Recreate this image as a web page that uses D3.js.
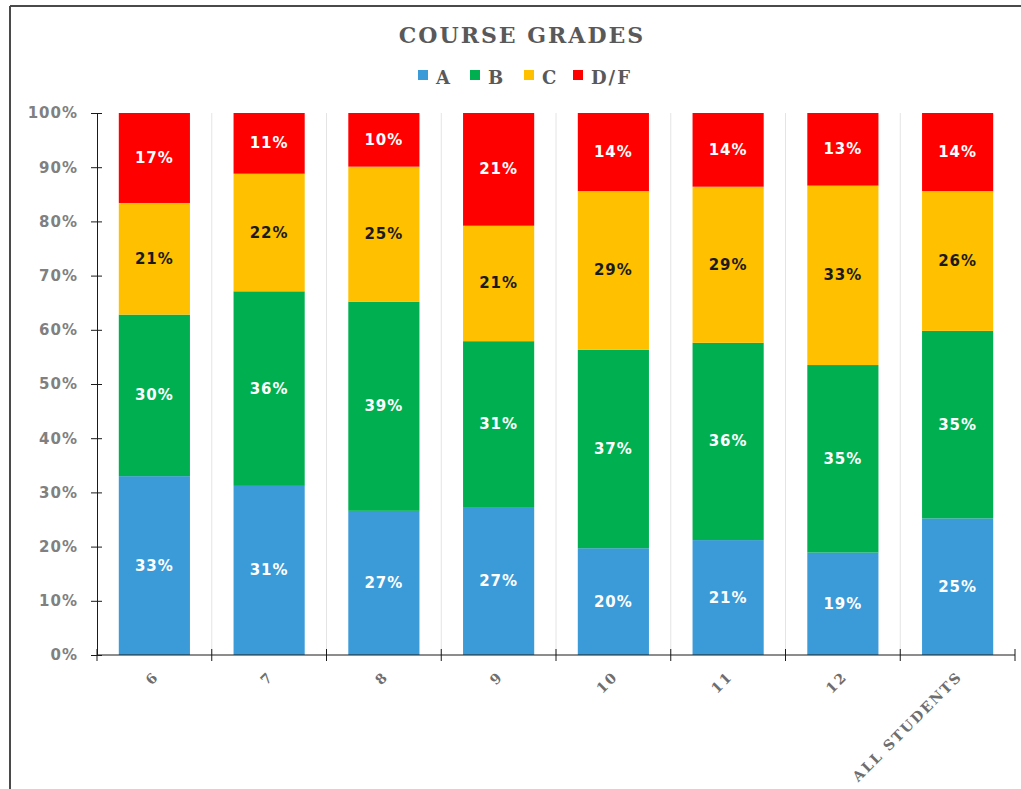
<!DOCTYPE html>
<html>
<head>
<meta charset="utf-8">
<script src="https://cdn.jsdelivr.net/npm/d3@7"></script>
<style>
  html, body { margin: 0; padding: 0; background: #ffffff; }
  svg { display: block; }
</style>
</head>
<body>
<svg id="chart" width="1021" height="789"></svg>
<script>
// Course grade distribution by grade level (percent of students)
const categories = ["6", "7", "8", "9", "10", "11", "12", "ALL STUDENTS"];
const gradeA  = [33.0, 31.2, 26.6, 27.3, 19.7, 21.2, 18.9, 25.2];
const gradeB  = [29.8, 35.9, 38.6, 30.6, 36.6, 36.4, 34.6, 34.6];
const gradeC  = [20.6, 21.7, 24.9, 21.3, 29.3, 28.8, 33.1, 25.8];
const gradeDF = [16.6, 11.2,  9.9, 20.8, 14.4, 13.6, 13.4, 14.4];
const seriesNames = ["A", "B", "C", "D/F"];
const seriesColors = ["#3a9bd8", "#00b050", "#ffc000", "#ff0000"];
const labelColors = ["#ffffff", "#ffffff", "#1a1a1a", "#ffffff"];
const yTicks = [0, 10, 20, 30, 40, 50, 60, 70, 80, 90, 100];

const rows = categories.map((c, i) => ({
  cat: c, A: gradeA[i], B: gradeB[i], C: gradeC[i], "D/F": gradeDF[i]
}));

const svg = d3.select("#chart");
const margin = { left: 97, right: 6, top: 113, bottom: 134 };
const W = 1021, H = 789;

// frame lines
svg.append("line").attr("x1", 10).attr("x2", W).attr("y1", 6).attr("y2", 6)
  .attr("stroke", "#4a4a4a").attr("stroke-width", 2);
svg.append("line").attr("x1", 10).attr("x2", 10).attr("y1", 6).attr("y2", H)
  .attr("stroke", "#4a4a4a").attr("stroke-width", 2);

const x = d3.scaleBand().domain(categories)
  .range([margin.left, W - margin.right]).paddingInner(0.38).paddingOuter(0.19);
const y = d3.scaleLinear().domain([0, 100]).range([H - margin.bottom, margin.top]);

const stack = d3.stack().keys(seriesNames).offset(d3.stackOffsetExpand);
const stacked = stack(rows);

// light vertical separators between categories
const step = x.step();
const bounds = d3.range(1, categories.length).map(i => margin.left + i * step);
svg.append("g").selectAll("line").data(bounds).join("line")
  .attr("x1", d => d).attr("x2", d => d)
  .attr("y1", y(100)).attr("y2", y(0))
  .attr("stroke", "#e4e4e4").attr("stroke-width", 1);

// bars
const layer = svg.append("g").selectAll("g").data(stacked).join("g")
  .attr("fill", (d, i) => seriesColors[i]);
layer.selectAll("rect").data(d => d).join("rect")
  .attr("x", d => x(d.data.cat))
  .attr("width", x.bandwidth())
  .attr("y", d => y(d[1] * 100))
  .attr("height", d => y(d[0] * 100) - y(d[1] * 100));

// segment value labels
const labels = svg.append("g").selectAll("g").data(stacked).join("g")
  .attr("fill", (d, i) => labelColors[i]);
labels.selectAll("text").data(d => d.map(p => ({ p, key: d.key }))).join("text")
  .attr("x", d => x(d.p.data.cat) + x.bandwidth() / 2)
  .attr("y", d => y((d.p[0] + d.p[1]) / 2 * 100))
  .attr("text-anchor", "middle")
  .attr("dominant-baseline", "central")
  .style("font-family", "'DejaVu Sans', Verdana, sans-serif")
  .style("font-weight", "bold")
  .style("font-size", "15px")
  .style("letter-spacing", "1px")
  .text(d => d3.format(".0f")(d.p.data[d.key]) + "%");

// y axis
const yAxis = svg.append("g").attr("transform", `translate(${margin.left},0)`)
  .call(d3.axisLeft(y).tickValues(yTicks).tickFormat(d => d + "%").tickSizeOuter(0).tickSize(6));
yAxis.select(".domain").attr("stroke", "#1a1a1a");
yAxis.selectAll(".tick line").attr("stroke", "#1a1a1a").attr("x1", -6).attr("x2", 5);
yAxis.selectAll(".tick text")
  .attr("x", -19)
  .attr("fill", "#808080")
  .style("font-family", "'DejaVu Sans', Verdana, sans-serif")
  .style("font-weight", "bold")
  .style("font-size", "15px")
  .style("letter-spacing", "1px");

// x axis with ticks at category boundaries
const xAxisG = svg.append("g").attr("transform", `translate(0,${y(0)})`);
xAxisG.append("line").attr("x1", margin.left).attr("x2", W - margin.right)
  .attr("stroke", "#1a1a1a");
const tickPos = d3.range(0, categories.length + 1).map(i => margin.left + i * step);
xAxisG.selectAll("line.tk").data(tickPos).join("line").attr("class", "tk")
  .attr("x1", d => d).attr("x2", d => d).attr("y1", -6).attr("y2", 6)
  .attr("stroke", "#1a1a1a");
xAxisG.selectAll("text").data(categories).join("text")
  .attr("transform", d => `translate(${x(d) + x.bandwidth() / 2 + 2},${19}) rotate(-45)`)
  .attr("text-anchor", "end")
  .attr("dominant-baseline", "central")
  .attr("fill", "#6e6e6e")
  .style("font-family", "'DejaVu Serif', Cambria, serif")
  .style("font-weight", "bold")
  .style("font-size", "14px")
  .style("letter-spacing", "2px")
  .text(d => d);

// title
svg.append("text").attr("x", 522).attr("y", 43).attr("text-anchor", "middle")
  .attr("fill", "#595959")
  .style("font-family", "'DejaVu Serif', Cambria, serif")
  .style("font-weight", "bold")
  .style("font-size", "22px")
  .style("letter-spacing", "2px")
  .text("COURSE GRADES");

// legend
const legendX = [418, 470, 524, 573];
const legend = svg.append("g").selectAll("g").data(seriesNames).join("g")
  .attr("transform", (d, i) => `translate(${legendX[i]},70)`);
legend.append("rect").attr("width", 10).attr("height", 10)
  .attr("fill", (d, i) => seriesColors[i]);
legend.append("text").attr("x", 18).attr("y", 14)
  .attr("fill", "#595959")
  .style("font-family", "'DejaVu Serif', Cambria, serif")
  .style("font-weight", "bold")
  .style("font-size", "18px")
  .style("letter-spacing", "2px")
  .text(d => d);
</script>
</body>
</html>
